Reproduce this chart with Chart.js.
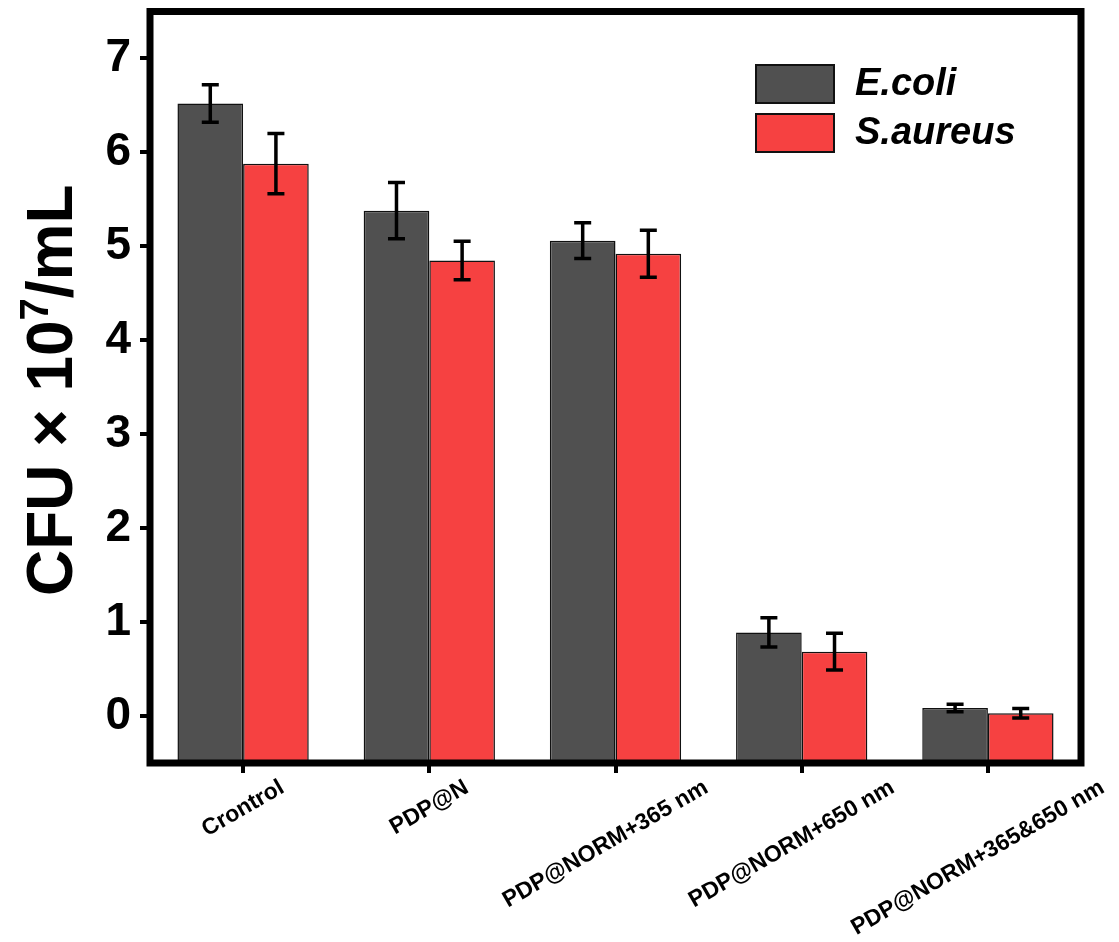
<!DOCTYPE html>
<html>
<head>
<meta charset="utf-8">
<script src="https://cdn.jsdelivr.net/npm/chart.js@4"></script>
<style>
  html, body { margin: 0; padding: 0; background: #ffffff; }
  #wrap { width: 1119px; height: 942px; position: relative; }
</style>
</head>
<body>
<div id="wrap"><canvas id="cfu" width="1119" height="942"></canvas></div>
<script>
// Bacterial counts (CFU x 10^7 / mL) per treatment group
const categories = ['Crontrol', 'PDP@N', 'PDP@NORM+365 nm', 'PDP@NORM+650 nm', 'PDP@NORM+365&650 nm'];
const ecoliValues = [6.52, 5.38, 5.06, 0.89, 0.085];
const ecoliErrors = [0.20, 0.30, 0.19, 0.155, 0.04];
const saureusValues = [5.88, 4.85, 4.92, 0.685, 0.03];
const saureusErrors = [0.32, 0.205, 0.25, 0.195, 0.05];
const seriesNames = ['E.coli', 'S.aureus'];
const yTickValues = [0, 1, 2, 3, 4, 5, 6, 7];

const FONT = '"Liberation Sans", Arial, Helvetica, sans-serif';
const errorSets = [ecoliErrors, saureusErrors];

// Error bars drawn on top of each bar, using the value scale
const errorBarPlugin = {
  id: 'errorBars',
  afterDatasetsDraw(chart) {
    const ctx = chart.ctx;
    const y = chart.scales.y;
    ctx.save();
    ctx.strokeStyle = '#000';
    ctx.lineWidth = 3.5;
    ctx.lineCap = 'butt';
    chart.data.datasets.forEach((ds, di) => {
      const meta = chart.getDatasetMeta(di);
      meta.data.forEach((bar, i) => {
        const v = ds.data[i], e = errorSets[di][i];
        const top = y.getPixelForValue(v + e);
        const bot = y.getPixelForValue(v - e);
        const cap = 8.5;
        ctx.beginPath();
        ctx.moveTo(bar.x, top); ctx.lineTo(bar.x, bot);
        ctx.moveTo(bar.x - cap, top); ctx.lineTo(bar.x + cap, top);
        ctx.moveTo(bar.x - cap, bot); ctx.lineTo(bar.x + cap, bot);
        ctx.stroke();
      });
    });
    ctx.restore();
  }
};

// Frame, rotated category labels, axis title and legend
const decorPlugin = {
  id: 'decor',
  afterDraw(chart) {
    const ctx = chart.ctx;
    const a = chart.chartArea;
    const xs = chart.scales.x;
    ctx.save();

    // thick box around the plot area
    ctx.strokeStyle = '#000';
    ctx.lineWidth = 7;
    ctx.strokeRect(a.left, a.top, a.right - a.left, a.bottom - a.top);

    // category labels, rotated 30 degrees and centred under each tick
    ctx.fillStyle = '#000';
    ctx.font = 'bold 23px ' + FONT;
    ctx.textAlign = 'center';
    ctx.textBaseline = 'middle';
    categories.forEach((lab, i) => {
      const x = xs.getPixelForTick(i);
      const w = ctx.measureText(lab).width;
      const cy = a.bottom + 16 + w / 4 + 7;
      const shift = w > 150 ? -10 : 0;
      ctx.save();
      ctx.translate(x + shift, cy);
      ctx.rotate(-Math.PI / 6);
      ctx.fillText(lab, 0, 0);
      ctx.restore();
    });

    // y axis title with superscript exponent
    const parts = [
      { t: 'CFU \u00d7 10', size: 64, dy: 0 },
      { t: '7', size: 40, dy: -24 },
      { t: '/mL', size: 64, dy: 0 }
    ];
    let total = 0;
    parts.forEach(p => { ctx.font = 'bold ' + p.size + 'px ' + FONT; p.w = ctx.measureText(p.t).width; total += p.w; });
    ctx.save();
    ctx.translate(72, (a.top + a.bottom) / 2 + 3);
    ctx.rotate(-Math.PI / 2);
    ctx.textAlign = 'left';
    ctx.textBaseline = 'alphabetic';
    let cx = -total / 2;
    parts.forEach(p => {
      ctx.font = 'bold ' + p.size + 'px ' + FONT;
      ctx.fillText(p.t, cx, p.dy);
      cx += p.w;
    });
    ctx.restore();

    // legend
    const boxX = 756, boxW = 78, boxH = 38;
    const rows = [65, 114];
    chart.data.datasets.forEach((ds, i) => {
      const by = rows[i];
      ctx.fillStyle = ds.backgroundColor;
      ctx.fillRect(boxX, by, boxW, boxH);
      ctx.strokeStyle = '#111';
      ctx.lineWidth = 2;
      ctx.strokeRect(boxX, by, boxW, boxH);
      ctx.fillStyle = '#000';
      ctx.font = 'italic bold 38px ' + FONT;
      ctx.textAlign = 'left';
      ctx.textBaseline = 'middle';
      ctx.fillText(seriesNames[i], 855, by + boxH / 2 + 1);
    });

    ctx.restore();
  }
};

new Chart(document.getElementById('cfu'), {
  type: 'bar',
  data: {
    labels: categories,
    datasets: [
      {
        label: seriesNames[0],
        data: ecoliValues,
        base: -0.5,
        backgroundColor: '#505050',
        borderColor: '#111111',
        borderWidth: 1.5,
        categoryPercentage: 0.705,
        barPercentage: 1.0
      },
      {
        label: seriesNames[1],
        data: saureusValues,
        base: -0.5,
        backgroundColor: '#f64141',
        borderColor: '#111111',
        borderWidth: 1.5,
        categoryPercentage: 0.705,
        barPercentage: 1.0
      }
    ]
  },
  options: {
    responsive: false,
    animation: false,
    layout: { padding: { left: 0, right: 38, top: 11.5, bottom: 0 } },
    plugins: { legend: { display: false }, tooltip: { enabled: false } },
    scales: {
      x: {
        grid: { display: true, drawOnChartArea: false, offset: false, color: '#000', lineWidth: 4, tickLength: 10 },
        border: { display: false },
        ticks: { display: false },
        afterFit(s) { s.height = 179; s.paddingLeft = 0; s.paddingRight = 0; }
      },
      y: {
        min: -0.5,
        max: 7.5,
        afterBuildTicks(s) { s.ticks = yTickValues.map(v => ({ value: v })); },
        grid: { display: true, drawOnChartArea: false, color: '#000', lineWidth: 4, tickLength: 10 },
        border: { display: false },
        ticks: {
          color: '#000',
          padding: 9,
          font: { family: FONT, size: 46, weight: 'bold' }
        },
        afterFit(s) { s.width = 150; s.paddingTop = 0; s.paddingBottom = 0; }
      }
    }
  },
  plugins: [errorBarPlugin, decorPlugin]
});
</script>
</body>
</html>
